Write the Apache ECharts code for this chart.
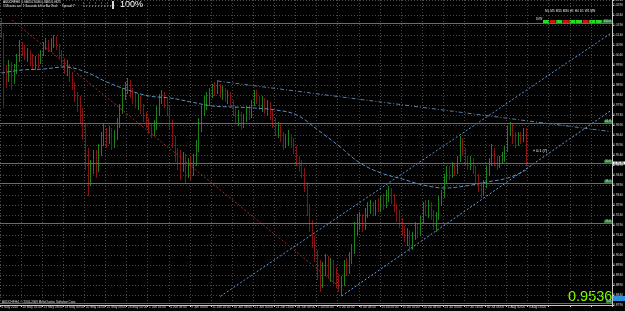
<!DOCTYPE html>
<html>
<head>
<meta charset="utf-8">
<script src="https://cdn.jsdelivr.net/npm/echarts@6/dist/echarts.min.js"></script>
<style>
  html, body { margin: 0; padding: 0; background: #000; }
  #chart { width: 625px; height: 311px; }
</style>
</head>
<body>
<div id="chart"></div>
<script>
// AUDCHF H4 (drawn as 8h bars), 4 May - 6 Aug 2010
const firstOpen = 1.0205
const closes = [
  1.0140, 0.9955, 0.9925, 0.9985, 0.9915, 0.9965, 1.0025, 1.0085,
  1.0065, 1.0035, 1.0055, 1.0015, 0.9995, 1.0025, 1.0005, 1.0055,
  1.0085, 1.0105, 1.0075, 1.0095, 1.0125, 1.0085, 1.0045, 1.0015,
  0.9975, 0.9985, 0.9935, 0.9895, 0.9835, 0.9785, 0.9755, 0.9675,
  0.9565, 0.9437, 0.9475, 0.9525, 0.9485, 0.9565, 0.9605, 0.9645,
  0.9625, 0.9655, 0.9615, 0.9635, 0.9695, 0.9765, 0.9835, 0.9875,
  0.9895, 0.9855, 0.9835, 0.9805, 0.9825, 0.9775, 0.9735, 0.9705,
  0.9675, 0.9655, 0.9685, 0.9755, 0.9815, 0.9845, 0.9805, 0.9765,
  0.9695, 0.9615, 0.9545, 0.9515, 0.9475, 0.9525, 0.9455, 0.9495,
  0.9465, 0.9515, 0.9575, 0.9675, 0.9755, 0.9795, 0.9815, 0.9845,
  0.9875, 0.9865, 0.9885, 0.9845, 0.9865, 0.9825, 0.9845, 0.9805,
  0.9765, 0.9725, 0.9745, 0.9695, 0.9725, 0.9765, 0.9745, 0.9795,
  0.9845, 0.9815, 0.9785, 0.9815, 0.9775, 0.9795, 0.9745, 0.9705,
  0.9665, 0.9685, 0.9635, 0.9595, 0.9615, 0.9645, 0.9605, 0.9575,
  0.9515, 0.9485, 0.9465, 0.9395, 0.9265, 0.9205, 0.9115, 0.9055,
  0.8985, 0.8925, 0.8975, 0.9015, 0.8965, 0.8995, 0.8945, 0.8915,
  0.8885, 0.8905, 0.8985, 0.8965, 0.9025, 0.9065, 0.9155, 0.9195,
  0.9215, 0.9185, 0.9245, 0.9265, 0.9285, 0.9255, 0.9295, 0.9275,
  0.9315, 0.9295, 0.9335, 0.9365, 0.9325, 0.9275, 0.9235, 0.9205,
  0.9165, 0.9135, 0.9155, 0.9095, 0.9135, 0.9175, 0.9155, 0.9215,
  0.9275, 0.9255, 0.9295, 0.9245, 0.9195, 0.9235, 0.9305, 0.9345,
  0.9415, 0.9455, 0.9435, 0.9475, 0.9455, 0.9515, 0.9605, 0.9565,
  0.9515, 0.9495, 0.9515, 0.9475, 0.9425, 0.9385, 0.9355, 0.9395,
  0.9455, 0.9505, 0.9565, 0.9515, 0.9485, 0.9515, 0.9525, 0.9565,
  0.9655, 0.9685, 0.9625, 0.9605, 0.9635, 0.9615, 0.9665, 0.9536
]
const highs = [
  1.0225, 1.0150, 0.9985, 1.0015, 1.0005, 0.9995, 1.0045, 1.0115,
  1.0105, 1.0085, 1.0075, 1.0065, 1.0045, 1.0035, 1.0045, 1.0065,
  1.0105, 1.0125, 1.0115, 1.0125, 1.0140, 1.0135, 1.0095, 1.0065,
  1.0025, 1.0015, 0.9995, 0.9955, 0.9905, 0.9855, 0.9835, 0.9775,
  0.9695, 0.9575, 0.9515, 0.9565, 0.9565, 0.9595, 0.9655, 0.9695,
  0.9675, 0.9685, 0.9675, 0.9665, 0.9725, 0.9795, 0.9875, 0.9905,
  0.9925, 0.9915, 0.9875, 0.9855, 0.9845, 0.9835, 0.9795, 0.9755,
  0.9725, 0.9695, 0.9715, 0.9785, 0.9845, 0.9865, 0.9855, 0.9825,
  0.9785, 0.9715, 0.9635, 0.9575, 0.9565, 0.9555, 0.9545, 0.9525,
  0.9535, 0.9545, 0.9615, 0.9725, 0.9785, 0.9835, 0.9855, 0.9875,
  0.9895, 0.9905, 0.9915, 0.9895, 0.9885, 0.9875, 0.9865, 0.9855,
  0.9815, 0.9785, 0.9765, 0.9755, 0.9745, 0.9785, 0.9785, 0.9815,
  0.9865, 0.9865, 0.9835, 0.9835, 0.9825, 0.9815, 0.9805, 0.9765,
  0.9725, 0.9705, 0.9695, 0.9655, 0.9645, 0.9665, 0.9645, 0.9625,
  0.9585, 0.9535, 0.9515, 0.9475, 0.9405, 0.9295, 0.9215, 0.9135,
  0.9065, 0.9015, 0.9005, 0.9045, 0.9035, 0.9025, 0.9015, 0.8975,
  0.8945, 0.8935, 0.9015, 0.9025, 0.9055, 0.9095, 0.9205, 0.9245,
  0.9255, 0.9245, 0.9275, 0.9305, 0.9315, 0.9305, 0.9315, 0.9325,
  0.9335, 0.9345, 0.9365, 0.9385, 0.9375, 0.9345, 0.9295, 0.9265,
  0.9225, 0.9185, 0.9175, 0.9165, 0.9155, 0.9205, 0.9195, 0.9235,
  0.9305, 0.9315, 0.9315, 0.9305, 0.9265, 0.9255, 0.9335, 0.9365,
  0.9445, 0.9485, 0.9485, 0.9505, 0.9495, 0.9535, 0.9635, 0.9625,
  0.9575, 0.9535, 0.9535, 0.9525, 0.9485, 0.9445, 0.9405, 0.9415,
  0.9485, 0.9525, 0.9595, 0.9575, 0.9535, 0.9535, 0.9555, 0.9585,
  0.9685, 0.9705, 0.9695, 0.9655, 0.9655, 0.9655, 0.9675, 0.9675
]
const lows = [
  1.0125, 0.9775, 0.9875, 0.9905, 0.9865, 0.9895, 0.9945, 1.0005,
  1.0035, 1.0015, 1.0005, 0.9985, 0.9965, 0.9965, 0.9975, 0.9995,
  1.0035, 1.0065, 1.0055, 1.0055, 1.0075, 1.0065, 1.0025, 0.9985,
  0.9945, 0.9935, 0.9905, 0.9865, 0.9805, 0.9755, 0.9695, 0.9615,
  0.9465, 0.9335, 0.9385, 0.9445, 0.9425, 0.9455, 0.9535, 0.9585,
  0.9575, 0.9595, 0.9565, 0.9575, 0.9615, 0.9675, 0.9745, 0.9815,
  0.9845, 0.9825, 0.9795, 0.9775, 0.9765, 0.9745, 0.9705, 0.9675,
  0.9645, 0.9625, 0.9635, 0.9665, 0.9735, 0.9795, 0.9775, 0.9735,
  0.9665, 0.9575, 0.9505, 0.9465, 0.9415, 0.9455, 0.9395, 0.9425,
  0.9415, 0.9435, 0.9485, 0.9555, 0.9655, 0.9735, 0.9765, 0.9785,
  0.9825, 0.9835, 0.9845, 0.9825, 0.9815, 0.9805, 0.9795, 0.9785,
  0.9735, 0.9695, 0.9685, 0.9665, 0.9675, 0.9705, 0.9715, 0.9725,
  0.9785, 0.9795, 0.9765, 0.9755, 0.9745, 0.9735, 0.9715, 0.9675,
  0.9635, 0.9625, 0.9605, 0.9565, 0.9575, 0.9585, 0.9575, 0.9545,
  0.9485, 0.9455, 0.9425, 0.9355, 0.9235, 0.9155, 0.9075, 0.9005,
  0.8915, 0.8855, 0.8875, 0.8935, 0.8925, 0.8905, 0.8895, 0.8875,
  0.8855, 0.8835, 0.8885, 0.8935, 0.8945, 0.8995, 0.9045, 0.9135,
  0.9165, 0.9155, 0.9165, 0.9225, 0.9245, 0.9235, 0.9235, 0.9255,
  0.9255, 0.9265, 0.9275, 0.9305, 0.9295, 0.9255, 0.9205, 0.9175,
  0.9135, 0.9105, 0.9085, 0.9055, 0.9065, 0.9115, 0.9125, 0.9135,
  0.9195, 0.9235, 0.9225, 0.9215, 0.9165, 0.9155, 0.9215, 0.9285,
  0.9325, 0.9395, 0.9415, 0.9425, 0.9435, 0.9445, 0.9505, 0.9535,
  0.9485, 0.9465, 0.9465, 0.9445, 0.9395, 0.9355, 0.9325, 0.9335,
  0.9375, 0.9435, 0.9485, 0.9485, 0.9465, 0.9475, 0.9495, 0.9505,
  0.9555, 0.9635, 0.9595, 0.9575, 0.9585, 0.9595, 0.9605, 0.9485
]
// date labels, one every 8 bars
const tickLabels = [
  '4 May 2010', '10 May 16:00', '13 May 08:00', '18 May 00:00', '20 May 16:00',
  '25 May 08:00', '28 May 00:00', '1 Jun 16:00', '4 Jun 08:00', '9 Jun 00:00',
  '11 Jun 16:00', '16 Jun 08:00', '21 Jun 00:00', '23 Jun 16:00', '28 Jun 08:00',
  '1 Jul 00:00', '5 Jul 16:00', '8 Jul 08:00', '13 Jul 00:00', '15 Jul 16:00',
  '20 Jul 08:00', '23 Jul 00:00', '27 Jul 16:00', '30 Jul 08:00', '4 Aug 00:00',
  '6 Aug 16:00'
]
// moving average, read every 8 bars
const maPoints = [
  [0, 0.9950], [8, 0.9965], [16, 0.9970], [24, 0.9980], [32, 0.9955],
  [40, 0.9905], [48, 0.9865], [56, 0.9835], [64, 0.9825], [72, 0.9805],
  [80, 0.9785], [88, 0.9780], [96, 0.9775], [104, 0.9765], [112, 0.9740],
  [120, 0.9665], [128, 0.9585], [136, 0.9500], [144, 0.9450], [152, 0.9420],
  [160, 0.9390], [168, 0.9375], [176, 0.9385], [184, 0.9405], [192, 0.9425],
  [199, 0.9465]
]
// trend lines [bar, price] -> [bar, price]
const channelUpper = [[83, 0.8833], [231, 1.0148]]
const channelLower = [[129, 0.8835], [231, 0.9762]]
const peakLine = [[82, 0.9910], [231, 0.9657]]
const redLine = [[4, 1.0215], [130, 0.8860]]
// fibonacci retracement
const fibHigh = 1.0240
const fibLow = 0.8835
const fibLevels = [0, 0.236, 0.382, 0.5, 0.618, 1]
// timeframe panel
const tfNames = ['M1', 'M5', 'M15', 'M30', 'H1', 'H4', 'D1', 'W1', 'MN']
const tfUp = [1, 0, 1, 0, 1, 1, 0, 1, 1]

const slots = 232
const font = 'Liberation Sans'
const cats = []
for (let i = 0; i < slots; i++) cats.push('b' + i)

const candles = closes.map((c, i) => {
  const o = i ? closes[i - 1] : firstOpen
  return [o, c, Math.min(lows[i], o, c), Math.max(highs[i], o, c)]
})
const last = candles[candles.length - 1]
const lastClose = closes[closes.length - 1]

const fibMarks = fibLevels.map(r => ({
  yAxis: fibLow + r * (fibHigh - fibLow),
  lineStyle: { color: '#3b8a4c', width: 1, type: 'solid' },
  label: {
    show: true,
    position: 'insideEndTop',
    distance: 0,
    formatter: (r * 100).toFixed(1),
    fontSize: 3,
    fontFamily: font,
    color: '#cfe8cf',
    backgroundColor: '#2f7a3e',
    padding: [0, 1]
  }
}))

const tfGraphics = []
tfUp.forEach((up, k) => {
  tfGraphics.push({
    type: 'rect',
    shape: { x: 543 + k * 6.6, y: 20, width: 6, height: 3 },
    style: { fill: up ? '#22dd22' : '#cc1515' }
  })
})

const trendStyle = (data, color, dash) => ({
  type: 'line',
  data: data,
  symbol: 'none',
  silent: true,
  lineStyle: { color: color, width: 1, type: dash }
})

const chart = echarts.init(document.getElementById('chart'))
chart.setOption({
  backgroundColor: '#000000',
  animation: false,
  grid: { left: 0, right: 13, top: 0, bottom: 6, outerBoundsMode: 'none' },
  xAxis: {
    type: 'category',
    data: cats,
    boundaryGap: true,
    axisLine: { show: true, lineStyle: { color: '#c8c8c8', width: 1 } },
    axisTick: { show: true, interval: 7, length: 2, lineStyle: { color: '#c8c8c8' } },
    axisLabel: {
      interval: 7,
      margin: 1,
      align: 'left',
      fontSize: 3.2,
      fontFamily: font,
      color: '#d8d8d8',
      formatter: (v, idx) => (idx % 8 === 0 && tickLabels[idx / 8]) ? tickLabels[idx / 8] : ''
    },
    splitLine: { show: true, interval: 7, lineStyle: { color: '#4a4a4a', type: [1, 2] } }
  },
  yAxis: {
    type: 'value',
    position: 'right',
    scale: true,
    min: 0.8790,
    max: 1.0315,
    interval: 0.005,
    axisLine: { show: true, lineStyle: { color: '#c8c8c8', width: 1 } },
    axisTick: { show: true, length: 2, lineStyle: { color: '#c8c8c8' } },
    axisLabel: {
      margin: 1,
      fontSize: 3.3,
      fontFamily: font,
      color: '#d8d8d8',
      formatter: v => v.toFixed(4)
    },
    splitLine: { show: true, lineStyle: { color: '#4a4a4a', type: [1, 2] } }
  },
  series: [
    {
      type: 'candlestick',
      data: candles,
      barWidth: 1,
      itemStyle: {
        color: '#1c941c',
        color0: '#9c1414',
        borderColor: '#22a322',
        borderColor0: '#a81818',
        borderWidth: 0.8
      },
      markLine: {
        silent: true,
        symbol: ['none', 'none'],
        data: fibMarks.concat([{
          yAxis: lastClose,
          lineStyle: { color: '#6a6a6a', width: 1, type: 'solid' },
          label: {
            show: true,
            position: 'end',
            distance: 1,
            formatter: lastClose.toFixed(4),
            fontSize: 3.3,
            fontFamily: font,
            color: '#000',
            backgroundColor: '#ffffff',
            padding: [0, 1]
          }
        }])
      }
    },
    {
      type: 'line',
      data: maPoints,
      symbol: 'none',
      smooth: 0.4,
      silent: true,
      lineStyle: { color: '#5b8cc0', width: 1, type: [4, 2] }
    },
    trendStyle(channelUpper, '#5f95d4', [2, 2]),
    trendStyle(channelLower, '#6ea4e0', [2, 2]),
    trendStyle(peakLine, '#5a7fa3', [4, 2, 1, 2]),
    trendStyle(redLine, '#a02828', [2, 2])
  ],
  graphic: [
    {
      type: 'text', left: 3, top: 1,
      style: {
        text: 'AUDCHF,H4  ' + last.map(v => v.toFixed(4)).join(' '),
        fill: '#ffffff', fontSize: 3, fontFamily: font
      }
    },
    {
      type: 'text', left: 3, top: 4.5,
      style: {
        text: '6 Minutes and 1 Seconds left to Bar End.     Spread: 7',
        fill: '#ffffff', fontSize: 3, fontFamily: font
      }
    },
    {
      type: 'line',
      shape: { x1: 83, y1: 6, x2: 111, y2: 6 },
      style: { stroke: '#cfcfcf', lineWidth: 1, lineDash: [1, 2] }
    },
    {
      type: 'line',
      shape: { x1: 83, y1: 3, x2: 111, y2: 3 },
      style: { stroke: '#9a9a9a', lineWidth: 1, lineDash: [1, 5] }
    },
    {
      type: 'rect',
      shape: { x: 112, y: 1, width: 2, height: 8 },
      style: { fill: '#d8d8d8' }
    },
    {
      type: 'text', left: 120, top: 0,
      style: { text: '100%', fill: '#ffffff', fontSize: 9, fontFamily: font }
    },
    {
      type: 'text', left: 545, top: 10,
      style: { text: tfNames.join(' '), fill: '#e8e8e8', fontSize: 3.2, fontFamily: font }
    },
    {
      type: 'text', left: 536, top: 18,
      style: { text: 'D/W', fill: '#e8e8e8', fontSize: 3.2, fontFamily: font }
    },
    ...tfGraphics,
    {
      type: 'text', left: 533, top: 149,
      style: { text: '« 0.1 (7)', fill: '#ffffff', fontSize: 3.8, fontFamily: font }
    },
    {
      type: 'text', left: 2, top: 301,
      style: {
        text: 'AUDCHF,H4, © 2001-2009 MetaQuotes Software Corp.',
        fill: '#e0e0e0', fontSize: 3, fontFamily: font
      }
    },
    {
      type: 'text', left: 568, top: 289,
      style: { text: lastClose.toFixed(4), fill: '#7fff00', fontSize: 14.5, fontFamily: font }
    },
    {
      type: 'rect',
      shape: { x: 613, y: 296, width: 12, height: 5 },
      style: { fill: '#2a8fe0' }
    }
  ]
})
</script>
</body>
</html>
